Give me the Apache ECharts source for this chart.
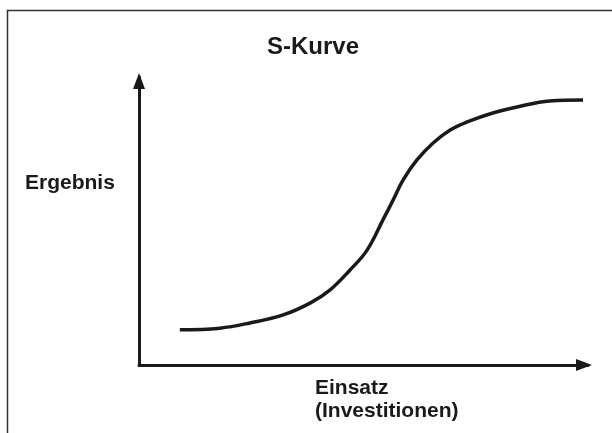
<!DOCTYPE html>
<html>
<head>
<meta charset="utf-8">
<script src="https://cdn.jsdelivr.net/npm/echarts@6/dist/echarts.min.js"></script>
<style>
  html, body { margin: 0; padding: 0; background: #fff; }
  #chart { width: 612px; height: 433px; }
</style>
</head>
<body>
<div id="chart"></div>
<script>
// Einsatz (x) / Ergebnis (y), relative Einheiten 0-100
var einsatz  = [9.1, 18.0, 24.7, 32.1, 38.1, 42.5, 47.0, 50.8, 54.3, 56.6, 58.8, 61.9, 65.5, 69.3, 73.1, 78.8, 84.2, 91.5, 98.9];
var ergebnis = [12.2, 12.8, 14.6, 17.4, 21.5, 26.0, 33.0, 39.9, 50.3, 57.3, 64.2, 71.2, 77.1, 81.6, 84.4, 87.5, 89.6, 91.7, 92.0];

var punkte = einsatz.map(function (x, i) { return [x, ergebnis[i]]; });

var myChart = echarts.init(document.getElementById('chart'));
var fontFam = '"Liberation Sans", Arial, sans-serif';

var achse = {
    show: true,
    symbol: ['none', 'triangle'],
    symbolSize: [12, 16],
    symbolOffset: [0, -4],
    lineStyle: { color: '#1a1a1a', width: 3 }
};

var option = {
    animation: false,
    backgroundColor: '#fff',
    title: {
        text: 'S-Kurve',
        left: 308,
        top: 30,
        textAlign: 'center',
        textStyle: { fontFamily: fontFam, fontSize: 24, fontWeight: 'bold', color: '#1a1a1a' }
    },
    grid: { left: 139, right: 24, top: 77, bottom: 68 },
    xAxis: {
        type: 'value',
        min: 0,
        max: 100,
        axisLine: achse,
        axisTick: { show: false },
        axisLabel: { show: false },
        splitLine: { show: false }
    },
    yAxis: {
        type: 'value',
        min: 0,
        max: 100,
        axisLine: achse,
        axisTick: { show: false },
        axisLabel: { show: false },
        splitLine: { show: false }
    },
    series: [{
        type: 'line',
        data: punkte,
        smooth: 0.4,
        symbol: 'none',
        lineStyle: { color: '#1a1a1a', width: 3.5 }
    }],
    graphic: [
        {
            type: 'rect',
            shape: { x: 7.5, y: 10.5, width: 620, height: 440 },
            style: { fill: 'none', stroke: '#333', lineWidth: 1.5 }
        },
        {
            type: 'text',
            left: 25,
            top: 173,
            style: { text: 'Ergebnis', font: 'bold 21px ' + fontFam, fill: '#1a1a1a' }
        },
        {
            type: 'text',
            left: 315,
            top: 377,
            style: { text: 'Einsatz\n(Investitionen)', font: 'bold 21px ' + fontFam, fill: '#1a1a1a', lineHeight: 23 }
        }
    ]
};
myChart.setOption(option);
</script>
</body>
</html>
